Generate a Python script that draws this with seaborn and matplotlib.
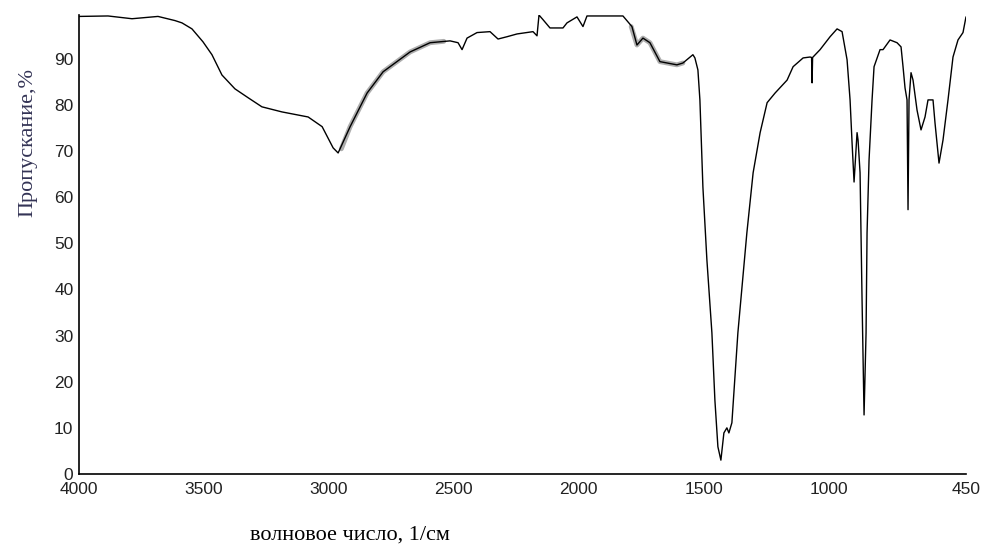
import numpy as np
import pandas as pd
import seaborn as sns
import matplotlib.pyplot as plt

## IR spectrum
wavenumber = [4000, 3884, 3788, 3684, 3616, 3588, 3548, 3504, 3468, 3428, 3376, 3324,
              3268, 3188, 3083, 3027, 2983, 2963, 2915, 2847, 2783, 2675, 2595, 2515,
              2483, 2467, 2447, 2407, 2355, 2323, 2287, 2247, 2183, 2167, 2159, 2143,
              2115, 2063, 2047, 2007, 1983, 1967, 1823, 1787, 1767, 1743, 1715, 1675,
              1607, 1583, 1543, 1535, 1523, 1515, 1503, 1487, 1467, 1455, 1443, 1431,
              1419, 1407, 1399, 1387, 1363, 1327, 1302, 1274, 1246, 1214, 1166, 1142,
              1102, 1074, 1068, 1066, 1064, 1034, 994, 966, 946, 926, 914, 906, 898,
              886, 882, 874, 866, 858, 850, 846, 838, 826, 818, 794, 782, 754, 726,
              710, 702, 694, 686, 682, 678, 670, 662, 646, 630, 614, 602, 582, 574,
              558, 542, 522, 502, 482, 462, 450]
transmittance = [99.2, 99.3, 98.7, 99.2, 98.3, 97.8, 96.5, 93.7, 90.9, 86.5, 83.5, 81.6,
                 79.6, 78.5, 77.4, 75.3, 70.7, 69.6, 75.3, 82.6, 87.2, 91.5, 93.5, 93.9,
                 93.5, 92.0, 94.5, 95.7, 95.9, 94.3, 94.8, 95.4, 95.9, 95.0, 99.5, 98.5,
                 96.7, 96.7, 97.8, 99.1, 97.0, 99.3, 99.3, 97.0, 93.0, 94.5, 93.5, 89.4,
                 88.7, 89.1, 90.9, 90.2, 87.6, 81.1, 62.2, 46.4, 30.6, 16.0, 5.9, 3.0,
                 8.9, 10.0, 8.9, 11.1, 30.6, 52.3, 65.3, 74.0, 80.5, 82.6, 85.4, 88.3,
                 90.2, 90.4, 90.3, 84.8, 90.3, 92.0, 94.8, 96.5, 95.9, 89.8, 81.1, 71.8, 63.3,
                 74.0, 72.4, 65.3, 37.7, 12.8, 30.6, 52.3, 68.1, 81.1, 88.3, 92.0, 92.0,
                 94.1, 93.5, 92.6, 88.3, 83.7, 81.1, 57.3, 81.1, 87.0, 85.4, 78.9, 74.6,
                 77.4, 81.1, 81.1, 76.1, 67.4, 72.4, 81.1, 90.4, 94.1, 95.7, 99.1]

# grey smudge of the scan along two stretches
smudge1_wn = [2950, 2915, 2847, 2783, 2675, 2595, 2540]
smudge1_t = [70.5, 75.3, 82.6, 87.2, 91.5, 93.5, 93.8]
smudge2_wn = [1790, 1767, 1743, 1715, 1675, 1607, 1583]
smudge2_t = [97.0, 93.0, 94.5, 93.5, 89.4, 88.7, 89.1]

xticks = [4000, 3500, 3000, 2500, 2000, 1500, 1000, 450]
yticks = [0, 10, 20, 30, 40, 50, 60, 70, 80, 90]

spec = pd.DataFrame({"wn": wavenumber, "T": transmittance})

sns.set_style("white")
plt.rcParams['font.family'] = ['Liberation Sans', 'DejaVu Sans']

fig = plt.figure(figsize=(9.83, 5.47), dpi=100)
ax = fig.add_axes([0.0804, 0.1335, 0.9023, 0.839])

ax.plot(smudge1_wn, smudge1_t, color="#999999", lw=3.5, alpha=0.8, solid_capstyle="round")
ax.plot(smudge2_wn, smudge2_t, color="#999999", lw=3.5, alpha=0.8, solid_capstyle="round")
sns.lineplot(data=spec, x="wn", y="T", estimator=None, color="black", lw=1.0, ax=ax)

ax.set_xlim(4000, 450)
ax.set_ylim(0, 99.5)
ax.set_xticks(xticks)
ax.set_xticklabels([str(t) for t in xticks])
ax.set_yticks(yticks)
ax.set_yticklabels([str(t) for t in yticks])
ax.tick_params(axis="x", length=0, pad=6, labelsize=12.5, colors="#222222")
ax.tick_params(axis="y", length=3, width=1, pad=1, labelsize=12.5, colors="#222222")
ax.set_xlabel("")
ax.set_ylabel("")

sns.despine(ax=ax)
for side in ["left", "bottom"]:
    ax.spines[side].set_color("black")
    ax.spines[side].set_linewidth(1.2)

fig.text(0.356, 0.022, "волновое число, 1/см", family=["Liberation Serif", "DejaVu Serif"],
         fontsize=16, ha="center", va="center", color="black")
fig.text(0.0285, 0.739, "Пропускание,%", family=["Liberation Serif", "DejaVu Serif"],
         fontsize=16, ha="center", va="center", rotation=90, color="#333355")

fig.savefig("out.png", dpi=100)
